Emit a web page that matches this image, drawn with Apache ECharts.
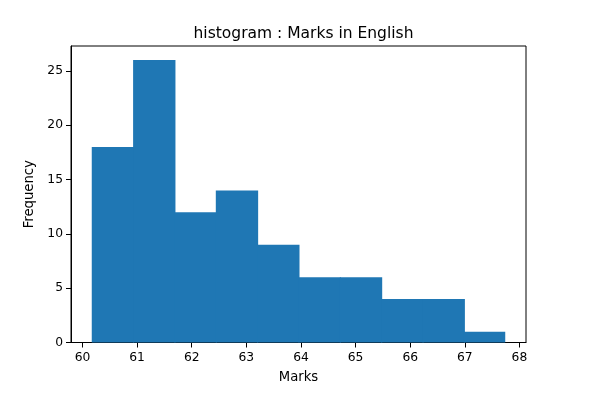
<!DOCTYPE html>
<html>
<head>
<meta charset="utf-8">
<script src="https://cdn.jsdelivr.net/npm/echarts@6/dist/echarts.min.js"></script>
<style>html,body{margin:0;padding:0;background:#fff}#c{width:593px;height:410px}</style>
</head>
<body>
<div id="c"></div>
<script>
const binEdges = [60.17, 60.927, 61.684, 62.441, 63.198, 63.955, 64.712, 65.469, 66.226, 66.983, 67.74];
const counts = [18, 26, 12, 14, 9, 6, 6, 4, 4, 1];
const xTicks = [60, 61, 62, 63, 64, 65, 66, 67, 68];
const yTicks = [0, 5, 10, 15, 20, 25];

const data = counts.map((c, i) => [binEdges[i], binEdges[i + 1], c, i === counts.length - 1 ? 1 : 0]);
const font = 'DejaVu Sans';
const chart = echarts.init(document.getElementById('c'), null, {renderer: 'canvas'});
chart.setOption({
  animation: false,
  backgroundColor: '#fff',
  title: {
    text: 'histogram : Marks in English',
    left: 298.5, top: 21, textAlign: 'center',
    textStyle: {fontFamily: font, fontSize: 15.5, fontWeight: 'normal', color: '#000'}
  },
  grid: {left: 71, right: 67, top: 46, bottom: 67.5, show: true, borderColor: '#000', borderWidth: 1, backgroundColor: 'transparent'},
  xAxis: {
    type: 'value', min: 59.79, max: 68.12,
    name: 'Marks', nameLocation: 'middle', nameGap: 29,
    nameTextStyle: {fontFamily: font, fontSize: 13.2, color: '#000'},
    axisLine: {show: true, lineStyle: {color: '#000', width: 1}},
    axisTick: {show: true, customValues: xTicks, length: 5, lineStyle: {color: '#000'}},
    axisLabel: {customValues: xTicks, margin: 9, fontFamily: font, fontSize: 12.3, color: '#000'},
    splitLine: {show: false}
  },
  yAxis: {
    type: 'value', min: 0, max: 27.3,
    name: 'Frequency', nameLocation: 'middle', nameGap: 30, nameRotate: 90,
    nameTextStyle: {fontFamily: font, fontSize: 13.2, color: '#000'},
    axisLine: {show: true, lineStyle: {color: '#000', width: 1}},
    axisTick: {show: true, customValues: yTicks, length: 5, lineStyle: {color: '#000'}},
    axisLabel: {customValues: yTicks, margin: 8, fontFamily: font, fontSize: 12.3, color: '#000'},
    splitLine: {show: false}
  },
  series: [{
    type: 'custom',
    data: data,
    encode: {x: [0, 1], y: 2},
    renderItem: function (params, api) {
      const p0 = api.coord([api.value(0), api.value(2)]);
      const p1 = api.coord([api.value(1), 0]);
      const extra = api.value(3) ? 0 : 1;
      return {
        type: 'rect',
        shape: {x: p0[0], y: p0[1], width: p1[0] - p0[0] + extra, height: p1[1] - p0[1]},
        style: {fill: '#1f77b4', stroke: null, lineWidth: 0}
      };
    }
  }]
});
</script>
</body>
</html>
